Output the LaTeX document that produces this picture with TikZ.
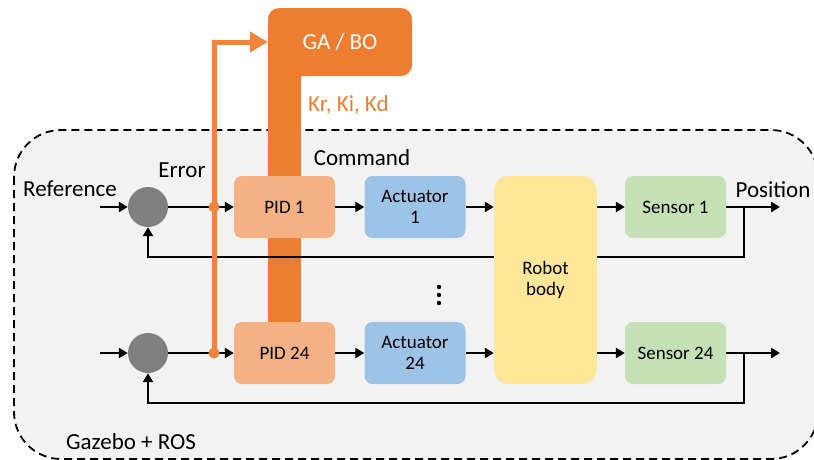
\documentclass[tikz,border=0pt]{standalone}
\usepackage{fontspec}
\setmainfont{Carlito}
\usetikzlibrary{arrows.meta,calc}
\pgfdeclarelayer{bg}
\pgfdeclarelayer{wires}
\pgfdeclarelayer{tuning}
\pgfsetlayers{bg,wires,tuning,main}
\definecolor{gaorange}{HTML}{ED7D31}
\definecolor{tuneline}{HTML}{F0843A}
\definecolor{pidfill}{HTML}{F4B183}
\definecolor{actfill}{HTML}{9DC3E6}
\definecolor{bodyfill}{HTML}{FFE699}
\definecolor{sensfill}{HTML}{C5E0B4}
\definecolor{simfill}{HTML}{F2F2F2}
\definecolor{sumgray}{HTML}{808080}
\tikzset{
  block/.style={rounded corners=8pt, minimum width=101pt, minimum height=62pt,
    align=center, inner sep=0pt, font=\fontsize{19}{21}\selectfont},
  pidbox/.style={block, fill=pidfill},
  actbox/.style={block, fill=actfill},
  sensbox/.style={block, fill=sensfill},
  sumnode/.style={circle, fill=sumgray, minimum size=40pt, inner sep=0pt},
  wire/.style={line width=2.8pt, -{Triangle[length=9pt,width=10pt]}},
  lbl/.style={font=\fontsize{23}{25}\selectfont, inner sep=0pt},
}
\begin{document}
\begin{tikzpicture}[x=1pt,y=-1pt]
\useasboundingbox (0,0) rectangle (814,459);

\begin{pgfonlayer}{bg}
% simulation frame, running past the right and bottom page edges
\begin{scope}
\clip (0,0) rectangle (814,459);
\draw[dash pattern=on 8pt off 5pt, line width=1.8pt, fill=simfill, rounded corners=47pt]
  (14,130) rectangle (818,459);
\end{scope}
% optimiser block and its gain bar
\fill[gaorange] (268,30) rectangle (301,322);
\end{pgfonlayer}

\node[fill=gaorange, rounded corners=11pt, minimum width=144pt, minimum height=68pt,
  inner sep=0pt, text=white, font=\fontsize{23}{25}\selectfont] (ga) at (340,42) {GA / BO};
\node[lbl, text=gaorange, anchor=west] (gains) at (308,105) {Kr, Ki, Kd};

% summing junctions
\node[sumnode] (c1) at (148,207) {};
\node[sumnode] (c2) at (148,353) {};

% blocks, channel 1
\node[pidbox] (p1) at (284.5,207) {PID 1};
\node[actbox] (a1) at (415,207) {Actuator\\1};
\node[sensbox] (s1) at (675.5,207) {Sensor 1};
% blocks, channel 24
\node[pidbox] (p2) at (284.5,353) {PID 24};
\node[actbox] (a2) at (415,353) {Actuator\\24};
\node[sensbox] (s2) at (675.5,353) {Sensor 24};
% robot body
\node[block, fill=bodyfill, rounded corners=15pt, minimum width=103pt, minimum height=208pt]
  (rb) at (545.5,280) {Robot\\body};

% labels
\node[lbl] (tref) at (70,189) {Reference};
\node[lbl] (terr) at (182,170) {Error};
\node[lbl] (tcmd) at (362,158) {Command};
\node[lbl] (tpos) at (773,190) {Position};
\node[lbl, anchor=west] (tsim) at (66,442) {Gazebo + ROS};

% vertical ellipsis between channels
\fill (439,287) circle (2.2pt) (439,295) circle (2.2pt) (439,303) circle (2.2pt);

% coordinates
\coordinate (in1) at (100,207);
\coordinate (in2) at (100,353);
\coordinate (j1) at (214,207);
\coordinate (j2) at (214,353);
\coordinate (o1) at (780,207);
\coordinate (o2) at (780,353);
\coordinate (b1) at (744,207);
\coordinate (b2) at (744,353);
\coordinate (f1) at (148,257);
\coordinate (f2) at (148,403);

\begin{pgfonlayer}{wires}
\draw[wire] (in1) -- (c1);
\draw[wire] (c1) -- (p1);
\draw[wire] (p1) -- (a1);
\draw[wire] (a1.east) -- (a1.east -| rb.west);
\draw[wire] (s1.west -| rb.east) -- (s1.west);
\draw[wire] (s1) -- (o1);
\draw[wire] (b1) |- (f1) -- (c1.south);

\draw[wire] (in2) -- (c2);
\draw[wire] (c2) -- (p2);
\draw[wire] (p2) -- (a2);
\draw[wire] (a2.east) -- (a2.east -| rb.west);
\draw[wire] (s2.west -| rb.east) -- (s2.west);
\draw[wire] (s2) -- (o2);
\draw[wire] (b2) |- (f2) -- (c2.south);
\end{pgfonlayer}

% error signals fed to the optimiser
\begin{pgfonlayer}{tuning}
\draw[tuneline, line width=5pt, -{Triangle[length=18pt,width=20pt]}] (j2) |- (ga.west);
\fill[tuneline] (j1) circle (5.5pt) (j2) circle (5.5pt);
\end{pgfonlayer}
\end{tikzpicture}
\end{document}
